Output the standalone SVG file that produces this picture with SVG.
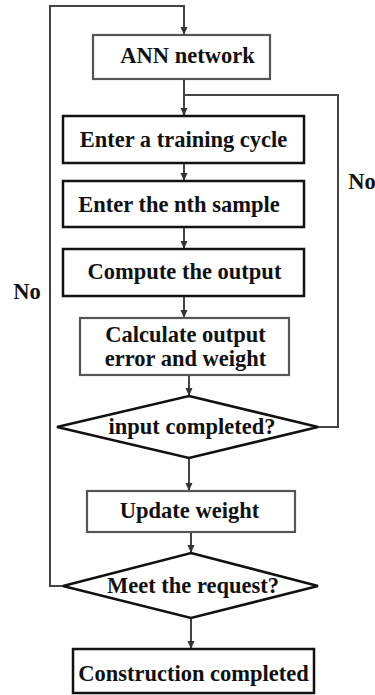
<svg xmlns="http://www.w3.org/2000/svg" width="375" height="695" viewBox="0 0 375 695">
<style>
text{font-family:"Liberation Serif","Times New Roman",serif;font-weight:bold;font-size:22.5px;fill:#111;text-anchor:middle}
.bk{fill:#fff;stroke:#111;stroke-width:2.5}
.gy{fill:#fff;stroke:#555;stroke-width:2.2}
.ln{fill:none;stroke:#444;stroke-width:2}
</style>
<defs>
<marker id="ah" markerWidth="8" markerHeight="8" refX="7" refY="4" orient="auto" markerUnits="userSpaceOnUse">
<path d="M0,0.5 L8,4 L0,7.5 Z" fill="#333"/>
</marker>
</defs>
<g id="connectors">
<polyline class="ln" points="63,586 50,586 50,6 184,6 184,34" marker-end="url(#ah)"/>
<line class="ln" x1="184" y1="79" x2="184" y2="115" marker-end="url(#ah)"/>
<polyline class="ln" points="318,427 338,427 338,95 184,95"/>
<line class="ln" x1="184" y1="163" x2="184" y2="180" marker-end="url(#ah)"/>
<line class="ln" x1="184" y1="227" x2="184" y2="248" marker-end="url(#ah)"/>
<line class="ln" x1="184" y1="296" x2="184" y2="317" marker-end="url(#ah)"/>
<line class="ln" x1="189" y1="375" x2="189" y2="395" marker-end="url(#ah)"/>
<line class="ln" x1="189" y1="458" x2="189" y2="490" marker-end="url(#ah)"/>
<line class="ln" x1="191" y1="532" x2="191" y2="552" marker-end="url(#ah)"/>
<line class="ln" x1="191" y1="618" x2="191" y2="648" marker-end="url(#ah)"/>
<text x="362" y="189">No</text>
<text x="27" y="299">No</text>
</g>
<g id="ann"><rect class="gy" x="93" y="35" width="177" height="44"/><text x="187.5" y="63">ANN network</text></g>
<g id="cycle"><rect class="bk" x="63" y="116" width="241" height="47"/><text x="183.5" y="147">Enter a training cycle</text></g>
<g id="sample"><rect class="bk" x="63" y="181" width="241" height="46"/><text x="179" y="212">Enter the nth sample</text></g>
<g id="compute"><rect class="bk" x="63" y="249" width="241" height="47"/><text x="184.5" y="279">Compute the output</text></g>
<g id="calc"><rect class="gy" x="80" y="318" width="209" height="57"/><text x="185.5" y="342">Calculate output</text><text x="185.5" y="366">error and weight</text></g>
<g id="input"><polygon class="bk" points="189,396 318,427 189,458 57,427"/><text x="192" y="434">input completed?</text></g>
<g id="update"><rect class="gy" x="87" y="491" width="208" height="41"/><text x="189.5" y="518">Update weight</text></g>
<g id="meet"><polygon class="bk" points="191,553 318,586 191,618 63,586"/><text x="193" y="593">Meet the request?</text></g>
<g id="done"><rect class="bk" x="73" y="649" width="241" height="44"/><text x="193.5" y="681">Construction completed</text></g>
</svg>
